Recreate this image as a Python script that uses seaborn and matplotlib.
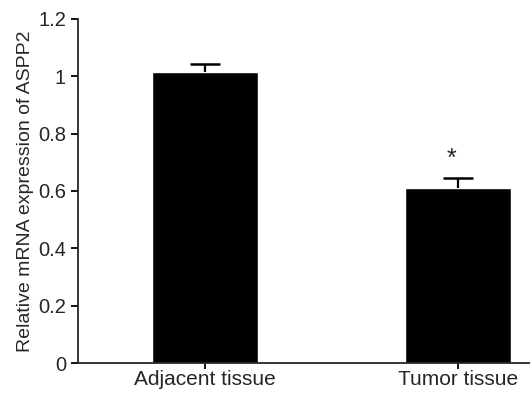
import matplotlib
matplotlib.use("Agg")
import matplotlib.pyplot as plt
import seaborn as sns
import pandas as pd

# données
groupes = ["Adjacent tissue", "Tumor tissue"]
moyennes = [1.013, 0.609]
erreurs = [0.031, 0.037]
signif = ["", "*"]

sns.set_style("ticks")
plt.rcParams['font.family'] = ['Liberation Sans', 'DejaVu Sans']

df = pd.DataFrame({"groupe": groupes, "valeur": moyennes})

fig = plt.figure(figsize=(5.3, 3.93), dpi=100)
ax = fig.add_axes([0.147, 0.0763, 0.853, 0.876])

sns.barplot(data=df, x="groupe", y="valeur", color="black", width=0.42,
            errorbar=None, ax=ax, saturation=1)

# barres d'erreur vers le haut seulement (sans chapeau en bas)
pos = list(range(len(groupes)))
hauts = [m + e for m, e in zip(moyennes, erreurs)]
ax.vlines(pos, moyennes, hauts, color="black", linewidth=1.6)
ax.hlines(hauts, [p - 0.06 for p in pos], [p + 0.06 for p in pos],
          color="black", linewidth=1.8)

for i, s in enumerate(signif):
    if s:
        ax.text(i - 0.025, hauts[i] + 0.025, s, ha="center", va="bottom",
                fontsize=18)

ax.set_xlim(-0.502, 1.285)
ax.set_ylim(0, 1.2)
ax.set_yticks([0, 0.2, 0.4, 0.6, 0.8, 1, 1.2])
ax.set_yticklabels(["0", "0.2", "0.4", "0.6", "0.8", "1", "1.2"])
ax.set_xlabel("")
ax.set_ylabel("Relative mRNA expression of ASPP2", fontsize=14, labelpad=3)
ax.tick_params(axis="y", labelsize=14.5, width=1.3, length=5, color="black")
ax.tick_params(axis="x", labelsize=15, width=1.3, length=4, color="black", pad=1)
for side in ["left", "bottom"]:
    ax.spines[side].set_linewidth(1.3)
sns.despine(ax=ax)

fig.savefig("out.png", dpi=100)
